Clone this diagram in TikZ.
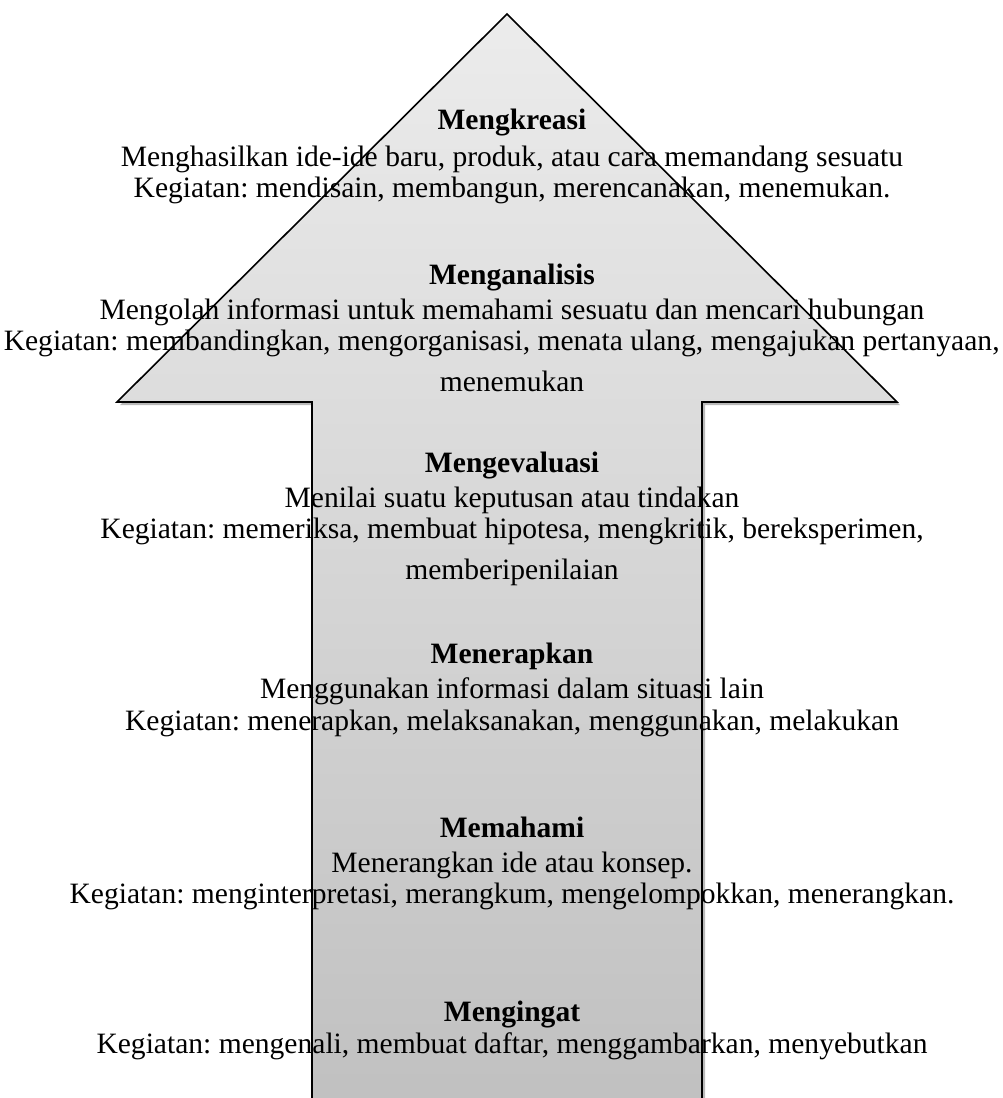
\documentclass[tikz,border=0pt]{standalone}
\usepackage{fontspec}
\setmainfont{Liberation Serif}
\usetikzlibrary{positioning}
\frenchspacing

\begin{document}
\begin{tikzpicture}[x=0.4348pt, y=-0.4348pt, font=\fontsize{12.85}{13.5}\selectfont,
  stage/.style={align=center, inner sep=0pt, anchor=north},
  arrowbody/.style={line width=0.7pt, top color=gray!15, bottom color=gray!50},
  arrowshadow/.style={fill=gray!55, shift={(3,3)}}]
\useasboundingbox (0,0) rectangle (1003,1098);
\begin{scope}
\clip (0,0) rectangle (1003,1098);
% shadow and body of the big arrow
\fill[arrowshadow] (507,14) -- (897,402) -- (702,402) -- (702,1130) -- (312,1130) -- (312,402) -- (117,402) -- cycle;
\draw[arrowbody] (507,14) -- (897,402) -- (702,402) -- (702,1130) -- (312,1130) -- (312,402) -- (117,402) -- cycle;
\end{scope}

\node[stage] (kreasi) at (512,109) {\textbf{Mengkreasi}\\[2.2pt]
  Menghasilkan ide-ide baru, produk, atau cara memandang sesuatu\\
  Kegiatan: mendisain, membangun, merencanakan, menemukan.};
\node[stage] (analisis) at (512,264) {\textbf{Menganalisis}\\[1.3pt]
  Mengolah informasi untuk memahami sesuatu dan mencari hubungan\\
  \hspace*{-9pt}Kegiatan: membandingkan, mengorganisasi, menata ulang, mengajukan pertanyaan,\hspace*{9pt}\\[4.5pt]
  menemukan};
\node[stage] (evaluasi) at (512,452) {\textbf{Mengevaluasi}\\[1.3pt]
  Menilai suatu keputusan atau tindakan\\
  Kegiatan: memeriksa, membuat hipotesa, mengkritik, bereksperimen,\\[4.5pt]
  memberipenilaian};
\node[stage] (terapkan) at (512,643) {\textbf{Menerapkan}\\[1.3pt]
  Menggunakan informasi dalam situasi lain\\[0.8pt]
  Kegiatan: menerapkan, melaksanakan, menggunakan, melakukan};
\node[stage] (paham) at (512,817) {\textbf{Memahami}\\[1.3pt]
  Menerangkan ide atau konsep.\\
  Kegiatan: menginterpretasi, merangkum, mengelompokkan, menerangkan.};
\node[stage] (ingat) at (512,1001) {\textbf{Mengingat}\\[0pt]
  Kegiatan: mengenali, membuat daftar, menggambarkan, menyebutkan};
\end{tikzpicture}
\end{document}
